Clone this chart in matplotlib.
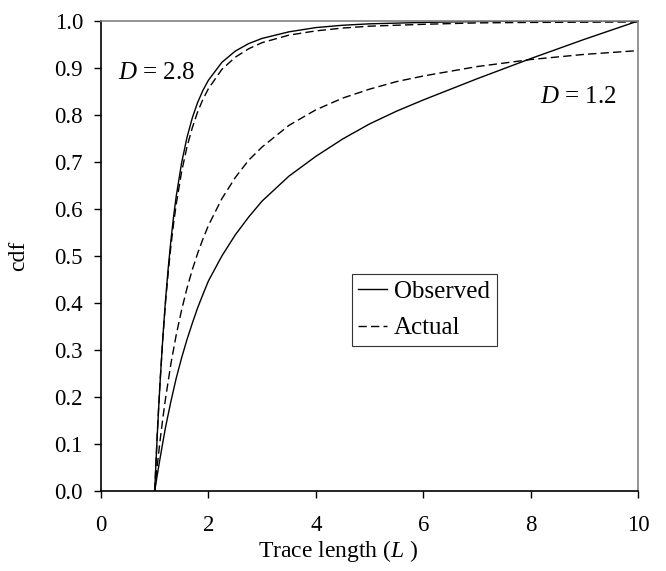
import matplotlib

matplotlib.use("Agg")
import matplotlib.pyplot as plt

# values
L_steep = [1.0, 1.025, 1.05, 1.075, 1.1, 1.15, 1.2, 1.25, 1.3, 1.35, 1.4, 1.5, 1.6, 1.7, 1.8, 1.9,
           2.0, 2.25, 2.5, 2.75, 3.0, 3.5, 4.0, 4.5, 5.0, 6.0, 7.0, 8.0, 10.0]
obs_28 = [0.0, 0.065, 0.125, 0.18, 0.232, 0.325, 0.405, 0.473, 0.532, 0.583, 0.627, 0.698, 0.752, 0.794, 0.827, 0.853,
          0.874, 0.912, 0.936, 0.952, 0.963, 0.977, 0.986, 0.991, 0.994, 0.997, 0.999, 1.0, 1.0]
act_28 = [0.0, 0.067, 0.128, 0.183, 0.234, 0.324, 0.40, 0.464, 0.52, 0.568, 0.61, 0.679, 0.732, 0.773, 0.807, 0.834,
          0.856, 0.897, 0.923, 0.941, 0.954, 0.970, 0.979, 0.985, 0.989, 0.993, 0.996, 0.997, 0.998]

L_flat = [1.0, 1.05, 1.1, 1.15, 1.2, 1.3, 1.4, 1.5, 1.6, 1.7, 1.8, 1.9, 2.0, 2.25, 2.5, 2.75, 3.0,
          3.5, 4.0, 4.5, 5.0, 5.5, 6.0, 7.0, 8.0, 9.0, 10.0]
obs_12 = [0.0, 0.036, 0.07, 0.103, 0.135, 0.19, 0.24, 0.283, 0.322, 0.357, 0.39, 0.419, 0.447, 0.50, 0.545, 0.583, 0.617,
          0.67, 0.712, 0.749, 0.781, 0.808, 0.832, 0.877, 0.92, 0.961, 1.0]
act_12 = [0.0, 0.057, 0.108, 0.154, 0.196, 0.27, 0.332, 0.385, 0.431, 0.471, 0.506, 0.537, 0.565, 0.622, 0.667, 0.704, 0.732,
          0.778, 0.811, 0.836, 0.855, 0.871, 0.883, 0.903, 0.918, 0.929, 0.937]

x_ticks = [0, 2, 4, 6, 8, 10]
y_ticks = [i / 10 for i in range(11)]

plt.rcParams["font.family"] = "Liberation Serif"
plt.rcParams["mathtext.fontset"] = "custom"
plt.rcParams["mathtext.rm"] = "Liberation Serif"
plt.rcParams["mathtext.it"] = "Liberation Serif:italic"

fig = plt.figure(figsize=(6.66, 5.71), dpi=100)
ax = fig.add_axes([0.1517, 0.1401, 0.8063, 0.8231])

dash = (0, (6, 3))
ax.plot(L_steep, obs_28, color="black", lw=1.0, label="Observed")
ax.plot(L_steep, act_28, color="black", lw=1.0, linestyle=dash, label="Actual")
ax.plot(L_flat, obs_12, color="black", lw=1.0)
ax.plot(L_flat, act_12, color="black", lw=1.0, linestyle=dash)

ax.set_xlim(0, 10)
ax.set_ylim(0, 1)
ax.set_xticks(x_ticks)
ax.set_yticks(y_ticks)
ax.set_xticklabels([str(v) for v in x_ticks])
ax.set_yticklabels([f"{v:.1f}" for v in y_ticks])
ax.tick_params(direction="out", length=5, width=1.0, labelsize=16.5, colors="black")
ax.tick_params(axis="y", pad=8)
ax.tick_params(axis="x", pad=12)

for side in ("left", "bottom"):
    ax.spines[side].set_linewidth(1.2)
    ax.spines[side].set_color("black")
for side in ("top", "right"):
    ax.spines[side].set_linewidth(1.2)
    ax.spines[side].set_color("#808080")

ax.set_xlabel(r"Trace length ($\mathit{L}$ )", fontsize=17)
ax.xaxis.set_label_coords(0.441, -0.1)
ax.set_ylabel("cdf", fontsize=17, labelpad=18)

ax.text(0.32, 0.889, r"$\mathit{D}$ = 2.8", fontsize=18, va="center", ha="left")
ax.text(9.6, 0.838, r"$\mathit{D}$ = 1.2", fontsize=18, va="center", ha="right")

leg = ax.legend(loc="upper left", bbox_to_anchor=(0.467, 0.462), borderaxespad=0,
                fontsize=18, frameon=True, fancybox=False, handlelength=1.15,
                handletextpad=0.28, borderpad=0.26, labelspacing=0.56)
leg.get_frame().set_edgecolor("black")
leg.get_frame().set_linewidth(0.8)

fig.savefig("out.png", dpi=100)
